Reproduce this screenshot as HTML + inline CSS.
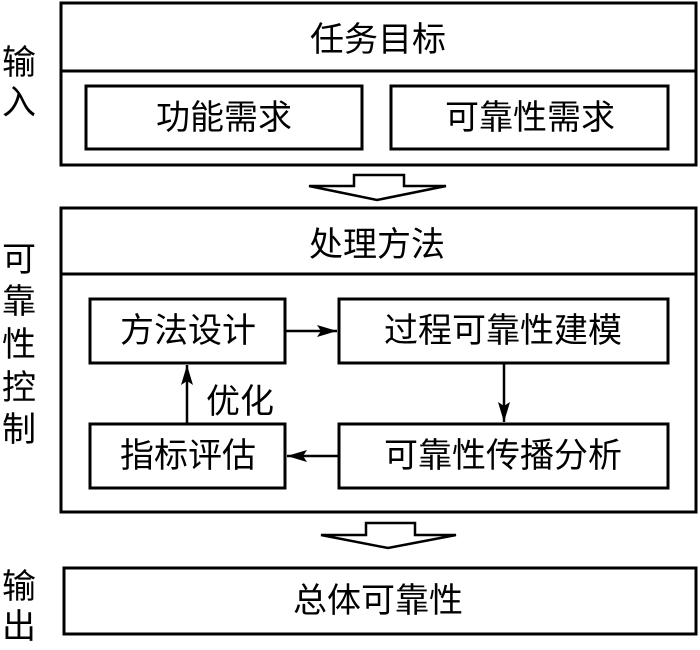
<!DOCTYPE html>
<html><head><meta charset="utf-8"><style>
body{margin:0;background:#fff}
svg text{font-family:"Liberation Sans","Noto Sans CJK SC",sans-serif;font-size:34px;fill:#000;text-anchor:middle;dominant-baseline:central}
</style></head><body>
<svg width="700" height="645" xmlns="http://www.w3.org/2000/svg">
<defs><marker id="a" markerWidth="10" markerHeight="10" refX="9" refY="5" orient="auto" markerUnits="userSpaceOnUse"><path d="M0,0 L20,5 L0,10 Z" transform="scale(0.5,1)"/></marker>
<marker id="b" viewBox="0 0 20 12" markerWidth="20" markerHeight="12" refX="20" refY="6" orient="auto" markerUnits="userSpaceOnUse"><path d="M0,0 L20,6 L0,12 L4,6 Z"/></marker></defs>
<g fill="none" stroke="#000" stroke-width="3">
<rect x="61" y="3" width="635" height="162"/>
<line x1="61" y1="71" x2="696" y2="71"/>
<rect x="86" y="86" width="276" height="63"/>
<rect x="391" y="86" width="277" height="63"/>
<rect x="61" y="208" width="635" height="304"/>
<line x1="61" y1="274" x2="696" y2="274"/>
<rect x="90" y="299" width="195" height="64"/>
<rect x="339" y="299" width="329" height="64"/>
<rect x="90" y="424" width="195" height="64"/>
<rect x="339" y="424" width="329" height="64"/>
<rect x="64" y="568" width="632" height="66"/>
</g>
<g fill="none" stroke="#000" stroke-width="2.5">
<path d="M354,175 L404,175 L404,186 L446,186 L377,200 L309,186 L354,186 Z"/>
<path d="M366,523 L415,523 L415,535 L456,535 L388,548 L321,535 L366,535 Z"/>
</g>
<g stroke="#000" stroke-width="2.5">
<line x1="285" y1="331" x2="337" y2="331" marker-end="url(#b)"/>
<line x1="504" y1="363" x2="504" y2="422" marker-end="url(#b)"/>
<line x1="339" y1="456" x2="287" y2="456" marker-end="url(#b)"/>
<line x1="187" y1="424" x2="187" y2="365" marker-end="url(#b)"/>
</g>
<text x="378" y="40">任务目标</text>
<text x="224" y="118">功能需求</text>
<text x="530" y="118">可靠性需求</text>
<text x="377" y="245">处理方法</text>
<text x="188" y="331">方法设计</text>
<text x="503" y="331">过程可靠性建模</text>
<text x="188" y="456">指标评估</text>
<text x="503" y="456">可靠性传播分析</text>
<text x="240" y="402">优化</text>
<text x="378" y="601">总体可靠性</text>
<text x="19" y="63">输</text>
<text x="19" y="103">入</text>
<text x="19" y="260">可</text>
<text x="19" y="302">靠</text>
<text x="19" y="345">性</text>
<text x="19" y="388">控</text>
<text x="19" y="430">制</text>
<text x="19" y="587">输</text>
<text x="19" y="627">出</text>
</svg>
</body></html>
